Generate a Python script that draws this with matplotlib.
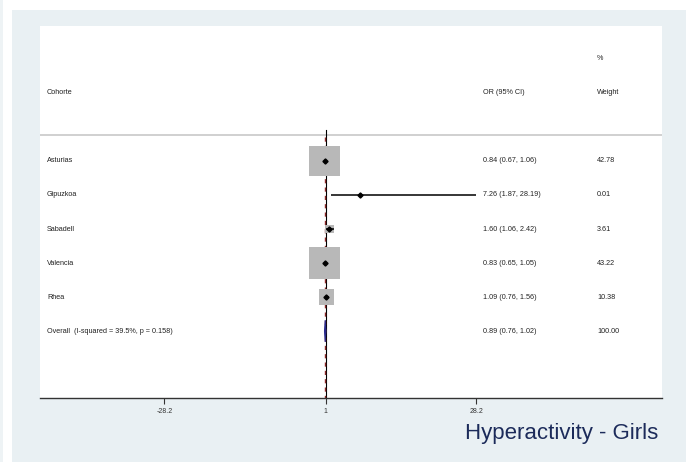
import numpy as np
import matplotlib
matplotlib.use("Agg")
import matplotlib.pyplot as plt
from matplotlib.patches import Polygon, Rectangle

plt.rcParams['font.family'] = ['Liberation Sans', 'DejaVu Sans']

# study-level odds ratios and weights
cohorts = ['Asturias', 'Gipuzkoa', 'Sabadell', 'Valencia', 'Rhea']
or_est = [0.84, 7.26, 1.60, 0.83, 1.09]
ci_low = [0.67, 1.87, 1.06, 0.65, 0.76]
ci_high = [1.06, 28.19, 2.42, 1.05, 1.56]
weights = [42.78, 0.01, 3.61, 43.22, 10.38]

# pooled estimate
overall_label = 'Overall  (I-squared = 39.5%, p = 0.158)'
overall_est = 0.89
overall_low = 0.76
overall_high = 1.02
overall_weight = 100.00

xticks = [-28.2, 1, 28.2]
xtick_labels = ['-28.2', '1', '28.2']

W, H = 689, 466
fig = plt.figure(figsize=(W / 100, H / 100), dpi=100)
fig.patch.set_facecolor('white')

# graph region background
bg = fig.add_axes([0, 0, 1, 1])
bg.set_xlim(0, W)
bg.set_ylim(H, 0)
bg.axis('off')
bg.add_patch(Rectangle((12, 10), 674, 452, facecolor='#e9f0f3', edgecolor='none'))
bg.add_patch(Rectangle((0, 0), 2.5, 462, facecolor='#eef3f5', edgecolor='none'))

# plot region
left, right, top, bottom = 40, 662, 26, 398
ax = fig.add_axes([left / W, (H - bottom) / H, (right - left) / W, (bottom - top) / H])
ax.set_facecolor('white')
ax.set_xlim(-50.7, 61.8)
ax.set_ylim(7.97, -2.97)
for s in ['top', 'right', 'left']:
    ax.spines[s].set_visible(False)
ax.spines['bottom'].set_color('#333333')
ax.spines['bottom'].set_linewidth(1.0)
ax.set_yticks([])
ax.set_xticks(xticks)
ax.set_xticklabels(xtick_labels, fontsize=5, color='#333333')
ax.tick_params(axis='x', length=4, width=0.8, color='#333333', pad=3)

rows = np.arange(1, len(cohorts) + 1)
overall_row = len(cohorts) + 1

# header separator
ax.axhline(0.25, color='#c8c8c8', lw=1.2, zorder=1)

# null line and pooled-effect line
ax.plot([1, 1], [0.1, 7.97], color='black', lw=0.8, zorder=2)
ax.plot([overall_est, overall_est], [0.3, 7.97], color='#8b2a2a', lw=1.0,
        ls=(0, (3, 3)), zorder=2)

# weight boxes, CIs and point estimates
ax.scatter(or_est, rows, s=np.array(weights) * 11.6, marker='s',
           color='#b8b8b8', edgecolors='none', zorder=3)
ax.hlines(rows, ci_low, ci_high, color='black', lw=1.1, zorder=4)
ax.plot(or_est, rows, ls='none', marker='D', markersize=2.6,
        color='black', zorder=5)

# pooled diamond
h = 0.32
diamond = Polygon([(overall_low, overall_row), (overall_est, overall_row - h),
                   (overall_high, overall_row), (overall_est, overall_row + h)],
                  closed=True, facecolor='#2a2a8c', edgecolor='#2a2a8c', lw=0.8,
                  zorder=4)
ax.add_patch(diamond)

# text columns
tr = ax.get_yaxis_transform()
x_label, x_or, x_wt = (47 - left) / (right - left), (483 - left) / (right - left), (597 - left) / (right - left)
fs = 5.2
tc = '#222222'
ax.text(x_wt, -2, '%', transform=tr, fontsize=fs, color=tc, va='center')
ax.text(x_label, -1, 'Cohorte', transform=tr, fontsize=fs, color=tc, va='center')
ax.text(x_or, -1, 'OR (95% CI)', transform=tr, fontsize=fs, color=tc, va='center')
ax.text(x_wt, -1, 'Weight', transform=tr, fontsize=fs, color=tc, va='center')

for r, name, e, lo, hi, w in zip(rows, cohorts, or_est, ci_low, ci_high, weights):
    ax.text(x_label, r, name, transform=tr, fontsize=fs, color=tc, va='center')
    ax.text(x_or, r, f'{e:.2f} ({lo:.2f}, {hi:.2f})', transform=tr, fontsize=fs,
            color=tc, va='center')
    ax.text(x_wt, r, f'{w:.2f}', transform=tr, fontsize=fs, color=tc, va='center')

ax.text(x_label, overall_row, overall_label, transform=tr, fontsize=fs, color=tc, va='center')
ax.text(x_or, overall_row, f'{overall_est:.2f} ({overall_low:.2f}, {overall_high:.2f})',
        transform=tr, fontsize=fs, color=tc, va='center')
ax.text(x_wt, overall_row, f'{overall_weight:.2f}', transform=tr, fontsize=fs,
        color=tc, va='center')

fig.text(658 / W, 1 - 433 / H, 'Hyperactivity - Girls', fontsize=16,
         color='#1c2b5a', ha='right', va='center')

fig.savefig('out.png', dpi=100)
